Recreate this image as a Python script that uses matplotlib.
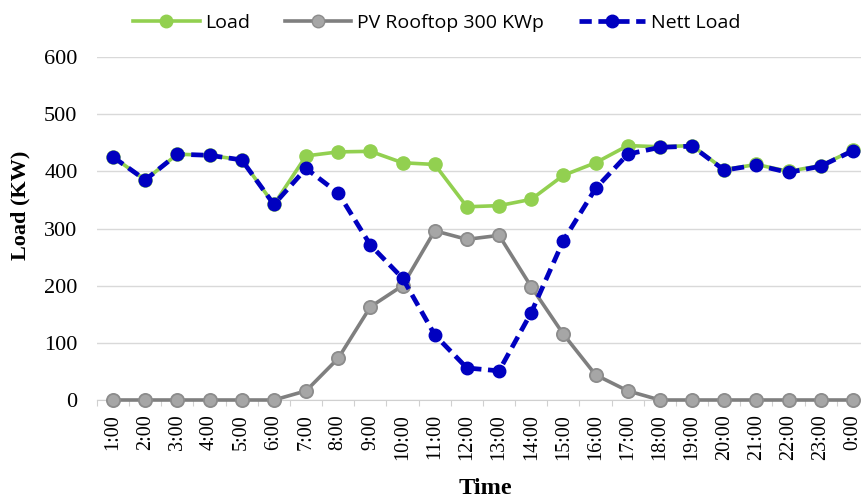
import matplotlib
matplotlib.use("Agg")
import matplotlib.pyplot as plt
from matplotlib.lines import Line2D
from matplotlib import font_manager

hours = ["1:00", "2:00", "3:00", "4:00", "5:00", "6:00", "7:00", "8:00", "9:00", "10:00",
         "11:00", "12:00", "13:00", "14:00", "15:00", "16:00", "17:00", "18:00", "19:00",
         "20:00", "21:00", "22:00", "23:00", "0:00"]
load = [425, 385, 430, 428, 420, 342, 427, 434, 435, 415, 412, 338, 340, 351, 393, 415,
        445, 443, 445, 403, 412, 400, 410, 437]
pv = [0, 0, 0, 0, 0, 0, 16, 73, 163, 200, 296, 281, 288, 198, 115, 44, 16, 0, 0, 0, 0, 0, 0, 0]
nett = [425, 385, 430, 428, 420, 342, 405, 362, 271, 213, 114, 56, 51, 153, 279, 370,
        430, 442, 444, 402, 411, 398, 409, 436]
yticks = [0, 100, 200, 300, 400, 500, 600]

names = {f.name for f in font_manager.fontManager.ttflist}
legend_family = "Liberation Sans Narrow" if "Liberation Sans Narrow" in names else "Open Sans"

W, H = 861, 501
fig = plt.figure(figsize=(W / 100, H / 100), dpi=100)
ax = fig.add_axes([97 / W, (H - 400) / H, 772 / W, 343 / H])

x = list(range(len(hours)))
green = "#92d050"
grey = "#7f7f7f"
blue = "#0000c0"
dash = (0, (2.6, 1.4))

ax.plot(x, load, color=green, lw=2.6, marker="o", ms=9.5, mfc=green, mec=green,
        zorder=3, clip_on=False)
ax.plot(x, pv, color=grey, lw=2.6, marker="o", ms=9.5, mfc="#a6a6a6", mec="#8c8c8c",
        mew=1.3, zorder=3, clip_on=False)
ax.plot(x, nett, color=blue, lw=3.4, ls=dash, marker="o", ms=9, mfc=blue, mec=blue,
        zorder=4, clip_on=False)

ax.set_xlim(-0.5, len(hours) - 0.5)
ax.set_ylim(0, 600)
ax.set_yticks(yticks)
ax.set_yticklabels([str(v) for v in yticks], fontfamily="Liberation Serif", fontsize=16)
ax.set_xticks(x)
ax.set_xticklabels(hours, rotation=90, fontfamily="Liberation Serif", fontsize=14.5)
ax.set_xticks([i - 0.5 for i in range(len(hours) + 1)], minor=True)
ax.tick_params(axis="x", which="major", length=0, pad=10)
ax.tick_params(axis="x", which="minor", length=4, color="#d0d0d0", width=0.8)
ax.tick_params(axis="y", length=0, pad=14)

ax.grid(axis="y", color="#d9d9d9", lw=1.0, zorder=0)
for s in ["top", "right", "left"]:
    ax.spines[s].set_visible(False)
ax.spines["bottom"].set_color("#d0d0d0")
ax.set_axisbelow(True)

fig.text(485 / W, 1 - 488 / H, "Time", ha="center", va="center",
         fontfamily="Liberation Serif", fontweight="bold", fontsize=17.5)
fig.text(20 / W, 1 - 205 / H, "Load (KW)", ha="center", va="center", rotation=90,
         fontfamily="Liberation Serif", fontweight="bold", fontsize=16)

handles = [
    Line2D([], [], color=green, lw=2.6, marker="o", ms=9, mfc=green, mec=green),
    Line2D([], [], color=grey, lw=2.6, marker="o", ms=9, mfc="#a6a6a6", mec="#8c8c8c"),
    Line2D([], [], color=blue, lw=3.4, ls=dash, marker="o", ms=9, mfc=blue, mec=blue),
]
fig.legend(handles, ["Load", "PV Rooftop 300 KWp", "Nett Load"], loc="center",
           bbox_to_anchor=(437 / W, 1 - 23 / H), ncol=3, frameon=False,
           prop={"family": legend_family, "size": 14}, handlelength=3.4,
           columnspacing=1.8, handletextpad=0.3, borderpad=0)

fig.savefig("out.png", dpi=100)
